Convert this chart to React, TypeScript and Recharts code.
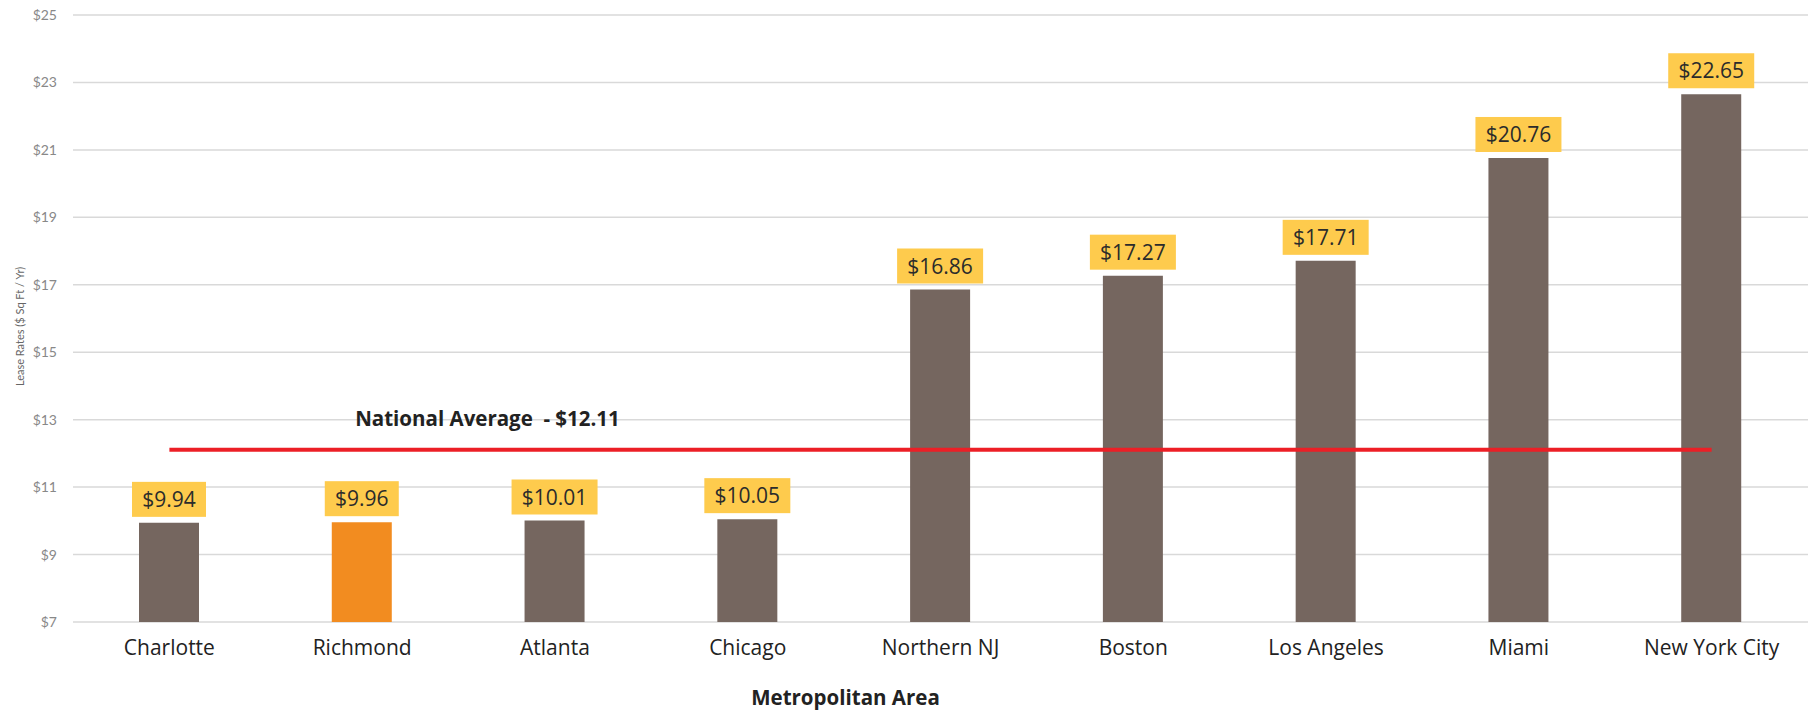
import { ComposedChart, Bar, Line, XAxis, YAxis, CartesianGrid, LabelList, Cell } from "recharts"

const areas = ["Charlotte", "Richmond", "Atlanta", "Chicago", "Northern NJ", "Boston", "Los Angeles", "Miami", "New York City"]
const rates = [9.94, 9.96, 10.01, 10.05, 16.86, 17.27, 17.71, 20.76, 22.65]
const nationalAverage = 12.11
const yTicks = [7, 9, 11, 13, 15, 17, 19, 21, 23, 25]
const highlight = "Richmond"

const data = areas.map((name, i) => ({ name, rate: rates[i], avg: nationalAverage }))

const font = "'Open Sans', Lato, sans-serif"
const tickFont = "Lato, sans-serif"

const ValueTag = (props: any) => {
  const { x, y, width, value } = props
  const text = `$${Number(value).toFixed(2)}`
  const w = text.length * 12 + 14
  const h = 35
  const cx = x + width / 2
  return (
    <g>
      <rect x={cx - w / 2} y={y - 6 - h} width={w} height={h} fill="#FECB4D" />
      <text x={cx} y={y - 6 - h / 2} dy="0.36em" textAnchor="middle" fontSize={21} fill="#2b2b2b" fontFamily={font}>
        {text}
      </text>
    </g>
  )
}

const AvgTag = (props: any) => {
  const { x, y, index } = props
  if (index !== 1) return null
  return (
    <text x={x - 7} y={y - 31} dy="0.36em" fontSize={20.5} fontWeight={700} fill="#222" fontFamily={font} style={{ whiteSpace: "pre" }}>
      {`National Average  - $${nationalAverage}`}
    </text>
  )
}

const YLabel = (props: any) => {
  const { viewBox } = props
  const cx = 20
  const cy = viewBox.y + viewBox.height / 2 + 8
  return (
    <text x={cx} y={cy} transform={`rotate(-90 ${cx} ${cy})`} textAnchor="middle" dy="0.36em" fontSize={11} fill="#666" fontFamily={tickFont}>
      Lease Rates ($ Sq Ft / Yr)
    </text>
  )
}

export default function App() {
  return (
    <div style={{ position: "absolute", left: 0, top: 0, background: "#fff" }}>
      <ComposedChart width={1808} height={712} data={data} margin={{ top: 15, right: 0, bottom: 0, left: 0 }}>
        <CartesianGrid vertical={false} stroke="#d9d9d9" strokeWidth={1.5} />
        <XAxis
          dataKey="name"
          height={90}
          axisLine={false}
          tickLine={false}
          tickMargin={12}
          tick={{ fontSize: 21, fill: "#222", fontFamily: font }}
          label={{ value: "Metropolitan Area", position: "insideBottom", offset: 7, dx: -95, fontSize: 20.5, fontWeight: 700, fill: "#222", fontFamily: font }}
        />
        <YAxis
          width={73}
          domain={[7, 25]}
          ticks={yTicks}
          axisLine={false}
          tickLine={false}
          tickMargin={10}
          tickFormatter={(v: number) => `$${v}`}
          tick={{ fontSize: 14, fill: "#888", fontFamily: tickFont }}
          label={<YLabel />}
        />
        <Bar dataKey="rate" barSize={60} isAnimationActive={false}>
          {data.map((d) => (
            <Cell key={d.name} fill={d.name === highlight ? "#F28C20" : "#75665F"} />
          ))}
          <LabelList dataKey="rate" content={<ValueTag />} />
        </Bar>
        <Line dataKey="avg" type="linear" stroke="#EC1F26" strokeWidth={4} dot={false} isAnimationActive={false}>
          <LabelList dataKey="avg" content={<AvgTag />} />
        </Line>
      </ComposedChart>
    </div>
  )
}
